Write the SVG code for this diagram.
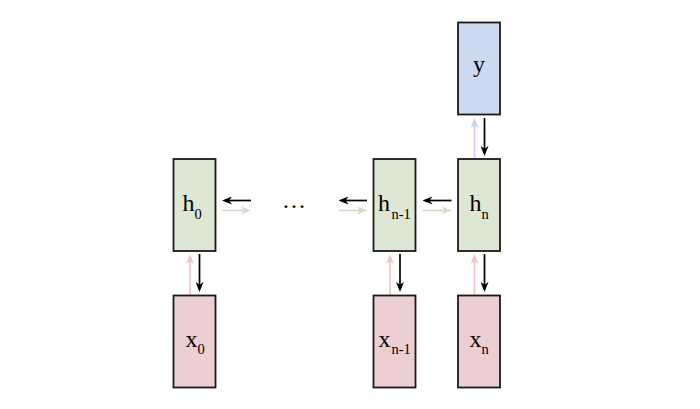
<svg xmlns="http://www.w3.org/2000/svg" width="700" height="409" viewBox="0 0 700 409">
  <style>
    .box { stroke: #1a1a1a; stroke-width: 1.8; }
    .h { fill: #dde7d4; }
    .x { fill: #eccfd2; }
    .y { fill: #cdd9f1; }
    .lbl { font-family: "Liberation Serif", "Times New Roman", serif; font-size: 24px; fill: #000; }
    .sub { font-size: 14.5px; }
    .a { fill: none; stroke-width: 1.7; }
    .k { stroke: #000; marker-end: url(#mk); }
    .g { stroke: #d3dbcc; marker-end: url(#mg); }
    .p { stroke: #f2c4c6; marker-end: url(#mp); }
    .b { stroke: #c6cff3; marker-end: url(#mb); }
  </style>
  <defs>
    <marker id="mk" markerUnits="userSpaceOnUse" viewBox="0 0 10 8" refX="7" refY="4" markerWidth="10" markerHeight="8" orient="auto">
      <path d="M0,0 L10,4 L0,8 L2.8,4 Z" fill="#000"/>
    </marker>
    <marker id="mg" markerUnits="userSpaceOnUse" viewBox="0 0 10 8" refX="7" refY="4" markerWidth="10" markerHeight="8" orient="auto">
      <path d="M0,0 L10,4 L0,8 L2.8,4 Z" fill="#d3dbcc"/>
    </marker>
    <marker id="mp" markerUnits="userSpaceOnUse" viewBox="0 0 10 8" refX="7" refY="4" markerWidth="10" markerHeight="8" orient="auto">
      <path d="M0,0 L10,4 L0,8 L2.8,4 Z" fill="#f2c4c6"/>
    </marker>
    <marker id="mb" markerUnits="userSpaceOnUse" viewBox="0 0 10 8" refX="7" refY="4" markerWidth="10" markerHeight="8" orient="auto">
      <path d="M0,0 L10,4 L0,8 L2.8,4 Z" fill="#c6cff3"/>
    </marker>
  </defs>
  <rect width="700" height="409" fill="#fff"/>

  <g id="connectors">
    <path class="a p" d="M190,295 L190,257"/>
    <path class="a k" d="M199.5,254 L199.5,289"/>
    <path class="a p" d="M390,295 L390,257"/>
    <path class="a k" d="M400,254 L400,289"/>
    <path class="a p" d="M474.5,295 L474.5,257"/>
    <path class="a k" d="M484.5,254 L484.5,289"/>
    <path class="a b" d="M474.5,159 L474.5,121"/>
    <path class="a k" d="M484.5,118 L484.5,153"/>
    <path class="a k" d="M251,200.5 L225,200.5"/>
    <path class="a g" d="M222,210.5 L248,210.5"/>
    <path class="a k" d="M367,200.5 L341.5,200.5"/>
    <path class="a g" d="M338.5,210.5 L364,210.5"/>
    <path class="a k" d="M451.5,200.5 L425.5,200.5"/>
    <path class="a g" d="M422.5,210.5 L448.5,210.5"/>
  </g>

  <g id="node-y">
    <rect class="box y" x="458" y="22.5" width="42" height="92"/>
    <text class="lbl" x="479" y="72" text-anchor="middle">y</text>
  </g>
  <g id="node-h0">
    <rect class="box h" x="173.5" y="159" width="42" height="92"/>
    <text class="lbl" x="182.5" y="211">h<tspan class="sub" dy="8">0</tspan></text>
  </g>
  <g id="node-dots">
    <text class="lbl" x="294" y="208" text-anchor="middle">…</text>
  </g>
  <g id="node-hn-1">
    <rect class="box h" x="373.5" y="159" width="42" height="92"/>
    <text class="lbl" x="378" y="211">h<tspan class="sub" dx="1.5" dy="8">n-1</tspan></text>
  </g>
  <g id="node-hn">
    <rect class="box h" x="458" y="159" width="42" height="92"/>
    <text class="lbl" x="469.5" y="211">h<tspan class="sub" dy="8">n</tspan></text>
  </g>
  <g id="node-x0">
    <rect class="box x" x="173.5" y="295.5" width="42" height="92"/>
    <text class="lbl" x="185.5" y="346.5">x<tspan class="sub" dy="7.5">0</tspan></text>
  </g>
  <g id="node-xn-1">
    <rect class="box x" x="373.5" y="295.5" width="42" height="92"/>
    <text class="lbl" x="378.5" y="346.5">x<tspan class="sub" dx="1" dy="7.5">n-1</tspan></text>
  </g>
  <g id="node-xn">
    <rect class="box x" x="458" y="295.5" width="42" height="92"/>
    <text class="lbl" x="469.5" y="346.5">x<tspan class="sub" dy="7.5">n</tspan></text>
  </g>
</svg>
